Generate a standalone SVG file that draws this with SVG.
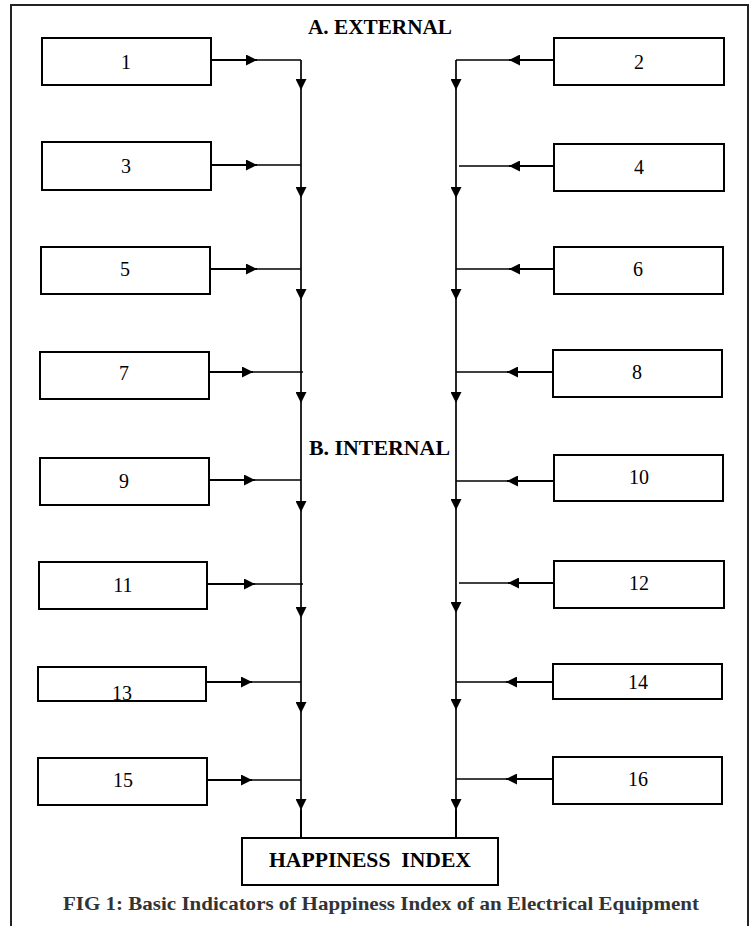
<svg xmlns="http://www.w3.org/2000/svg" width="754" height="926" viewBox="0 0 754 926">
<style>
.box{fill:#fff;stroke:#000;stroke-width:2}
.num{font-family:"Liberation Serif",serif;font-size:20px;text-anchor:middle;fill:#000}
.hdr{font-family:"Liberation Serif",serif;font-size:20px;font-weight:bold;fill:#000}
.thick{stroke:#000;stroke-width:2;fill:none}
.thin{stroke:#000;stroke-width:1.4;fill:none}
.vert{stroke:#000;stroke-width:1.7;fill:none}
.frame{stroke:#222;stroke-width:2;fill:none}
</style>
<defs>
<marker id="ah" markerUnits="userSpaceOnUse" markerWidth="11" markerHeight="11" refX="11" refY="5.5" orient="auto" viewBox="0 0 11 11">
<path d="M0,0 L11,5.5 L0,11 z" fill="#000"/>
</marker>
</defs>
<rect width="754" height="926" fill="#fff"/>
<path class="frame" d="M11,926 V5 H748 V926"/>
<text class="hdr" x="308" y="34" font-size="21" textLength="144" lengthAdjust="spacingAndGlyphs">A. EXTERNAL</text>
<text class="hdr" x="309" y="455" font-size="21" textLength="141" lengthAdjust="spacingAndGlyphs">B. INTERNAL</text>

<g id="n1"><rect class="box" x="42" y="38" width="169" height="47"/><text class="num" x="126" y="69">1</text></g>
<g id="n3"><rect class="box" x="42" y="142" width="169" height="48"/><text class="num" x="126" y="173">3</text></g>
<g id="n5"><rect class="box" x="41" y="247" width="169" height="47"/><text class="num" x="125" y="276">5</text></g>
<g id="n7"><rect class="box" x="40" y="352" width="169" height="47"/><text class="num" x="124" y="380">7</text></g>
<g id="n9"><rect class="box" x="40" y="458" width="169" height="47"/><text class="num" x="124" y="488">9</text></g>
<g id="n11"><rect class="box" x="39" y="562" width="168" height="47"/><text class="num" x="123" y="592">11</text></g>
<g id="n13"><rect class="box" x="38" y="667" width="168" height="34"/><text class="num" x="122" y="700">13</text></g>
<g id="n15"><rect class="box" x="38" y="758" width="169" height="47"/><text class="num" x="123" y="787">15</text></g>

<g id="n2"><rect class="box" x="554" y="38" width="170" height="47"/><text class="num" x="639" y="69">2</text></g>
<g id="n4"><rect class="box" x="554" y="144" width="170" height="47"/><text class="num" x="639" y="174">4</text></g>
<g id="n6"><rect class="box" x="554" y="247" width="169" height="47"/><text class="num" x="638" y="276">6</text></g>
<g id="n8"><rect class="box" x="553" y="350" width="169" height="47"/><text class="num" x="637" y="379">8</text></g>
<g id="n10"><rect class="box" x="554" y="455" width="169" height="46"/><text class="num" x="639" y="484">10</text></g>
<g id="n12"><rect class="box" x="554" y="561" width="170" height="47"/><text class="num" x="639" y="590">12</text></g>
<g id="n14"><rect class="box" x="553" y="664" width="169" height="35"/><text class="num" x="638" y="689">14</text></g>
<g id="n16"><rect class="box" x="553" y="757" width="169" height="47"/><text class="num" x="638" y="786">16</text></g>

<g id="happiness"><rect class="box" x="242" y="838" width="256" height="47"/><text class="hdr" x="370" y="867" text-anchor="middle" xml:space="preserve" textLength="202" lengthAdjust="spacingAndGlyphs">HAPPINESS  INDEX</text></g>

<g id="connectors">
<path class="thick" marker-end="url(#ah)" d="M211,60 H257"/><path class="thin" d="M257,60 H301"/>
<path class="thick" marker-end="url(#ah)" d="M211,165 H257"/><path class="thin" d="M257,165 H301"/>
<path class="thick" marker-end="url(#ah)" d="M210,269 H257"/><path class="thin" d="M257,269 H301"/>
<path class="thick" marker-end="url(#ah)" d="M209,372 H253"/><path class="thin" d="M253,372 H303"/>
<path class="thick" marker-end="url(#ah)" d="M209,480 H255"/><path class="thin" d="M255,480 H301"/>
<path class="thick" marker-end="url(#ah)" d="M207,584 H255"/><path class="thin" d="M255,584 H303"/>
<path class="thick" marker-end="url(#ah)" d="M206,682 H252"/><path class="thin" d="M252,682 H301"/>
<path class="thick" marker-end="url(#ah)" d="M207,780 H252"/><path class="thin" d="M252,780 H301"/>
<path class="vert" marker-end="url(#ah)" d="M301,60 V90"/>
<path class="vert" marker-end="url(#ah)" d="M301,90 V198"/>
<path class="vert" marker-end="url(#ah)" d="M301,198 V300"/>
<path class="vert" marker-end="url(#ah)" d="M301,300 V403"/>
<path class="vert" marker-end="url(#ah)" d="M301,403 V512"/>
<path class="vert" marker-end="url(#ah)" d="M301,512 V618"/>
<path class="vert" marker-end="url(#ah)" d="M301,618 V713"/>
<path class="vert" marker-end="url(#ah)" d="M301,713 V810"/>
<path class="thick" d="M301,810 V838"/>
<path class="thick" marker-end="url(#ah)" d="M554,60 H509"/><path class="thin" d="M509,60 H456"/>
<path class="thick" marker-end="url(#ah)" d="M554,166 H509"/><path class="thin" d="M509,166 H459"/>
<path class="thick" marker-end="url(#ah)" d="M554,269 H509"/><path class="thin" d="M509,269 H456"/>
<path class="thick" marker-end="url(#ah)" d="M553,372 H507"/><path class="thin" d="M507,372 H456"/>
<path class="thick" marker-end="url(#ah)" d="M554,481 H507"/><path class="thin" d="M507,481 H456"/>
<path class="thick" marker-end="url(#ah)" d="M554,583 H508"/><path class="thin" d="M508,583 H459"/>
<path class="thick" marker-end="url(#ah)" d="M553,682 H506"/><path class="thin" d="M506,682 H456"/>
<path class="thick" marker-end="url(#ah)" d="M553,779 H506"/><path class="thin" d="M506,779 H456"/>
<path class="vert" marker-end="url(#ah)" d="M456,60 V90"/>
<path class="vert" marker-end="url(#ah)" d="M456,90 V198"/>
<path class="vert" marker-end="url(#ah)" d="M456,198 V300"/>
<path class="vert" marker-end="url(#ah)" d="M456,300 V403"/>
<path class="vert" marker-end="url(#ah)" d="M456,403 V510"/>
<path class="vert" marker-end="url(#ah)" d="M456,510 V613"/>
<path class="vert" marker-end="url(#ah)" d="M456,613 V710"/>
<path class="vert" marker-end="url(#ah)" d="M456,710 V810"/>
<path class="thick" d="M456,810 V838"/>
</g>

<text x="381" y="910" text-anchor="middle" font-family="'Liberation Serif',serif" font-weight="bold" font-size="19" fill="#333" textLength="636" lengthAdjust="spacingAndGlyphs">FIG 1: Basic Indicators of Happiness Index of an Electrical Equipment</text>
</svg>
